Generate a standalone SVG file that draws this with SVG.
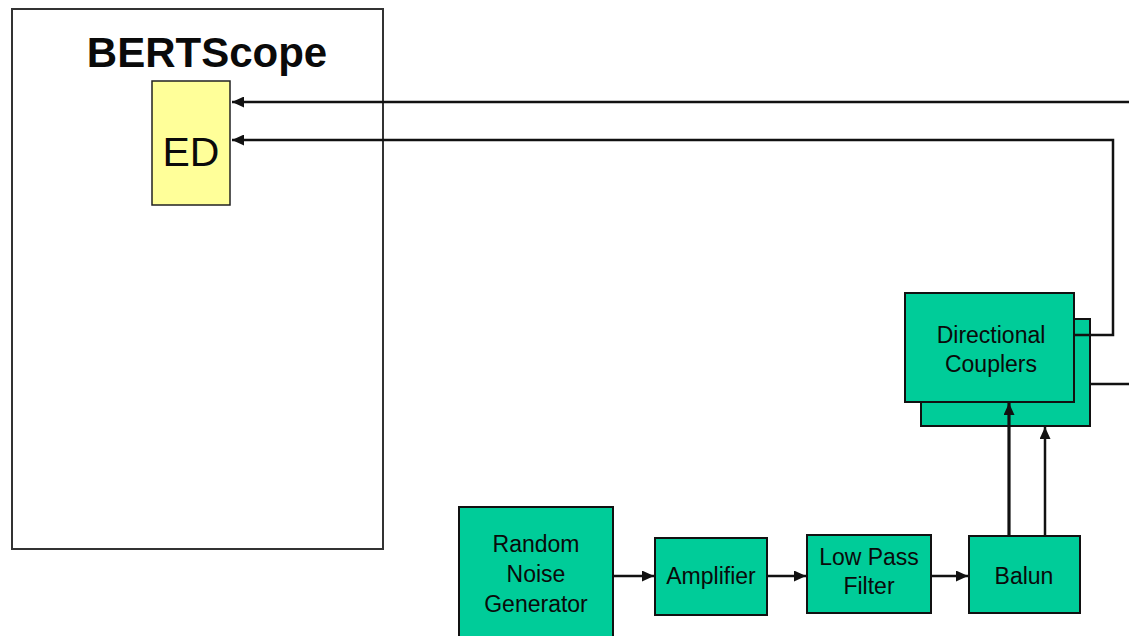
<svg xmlns="http://www.w3.org/2000/svg" width="1129" height="636" viewBox="0 0 1129 636">
  <style>
    .frame { fill: #ffffff; stroke: #333333; stroke-width: 2; }
    .block { fill: #00cc99; stroke: #111111; stroke-width: 2; }
    .ed { fill: #ffff99; stroke: #222222; stroke-width: 1.5; }
    .lbl { font-family: "Liberation Sans", Arial, sans-serif; font-size: 23px; fill: #0a0a0a; text-anchor: middle; }
    .wire { fill: none; stroke: #111111; stroke-width: 2.5; }
    .thick { stroke-width: 3.2; }
  </style>
  <defs>
    <marker id="head" markerUnits="userSpaceOnUse" markerWidth="13" markerHeight="11" refX="12" refY="5.5" orient="auto">
      <path d="M0,0 L12,5.5 L0,11 Z" fill="#111111"/>
    </marker>
  </defs>
  <rect width="1129" height="636" fill="#ffffff"/>

  <g id="bertscope">
    <rect class="frame" x="12" y="9" width="371" height="540"/>
    <text x="207" y="67" font-family="Liberation Sans, Arial, sans-serif" font-size="42" font-weight="bold" text-anchor="middle" fill="#0a0a0a">BERTScope</text>
  </g>

  <g id="ed">
    <rect class="ed" x="152" y="81" width="78" height="124"/>
    <text x="191" y="166" font-family="Liberation Sans, Arial, sans-serif" font-size="41" text-anchor="middle" fill="#0a0a0a">ED</text>
  </g>

  <g id="directional-couplers">
    <rect class="block" x="921" y="319" width="169" height="107"/>
    <rect class="block" x="905" y="293" width="169" height="109"/>
    <text class="lbl" x="991" y="343">Directional</text>
    <text class="lbl" x="991" y="372">Couplers</text>
  </g>

  <g id="random-noise-generator">
    <rect class="block" x="459" y="507" width="154" height="140"/>
    <text class="lbl" x="536" y="552">Random</text>
    <text class="lbl" x="536" y="582">Noise</text>
    <text class="lbl" x="536" y="612">Generator</text>
  </g>

  <g id="amplifier">
    <rect class="block" x="655" y="538" width="112" height="77"/>
    <text class="lbl" x="711" y="584">Amplifier</text>
  </g>

  <g id="low-pass-filter">
    <rect class="block" x="807" y="535" width="124" height="78"/>
    <text class="lbl" x="869" y="565">Low Pass</text>
    <text class="lbl" x="869" y="594">Filter</text>
  </g>

  <g id="balun">
    <rect class="block" x="969" y="536" width="111" height="77"/>
    <text class="lbl" x="1024" y="584">Balun</text>
  </g>

  <g id="connectors">
    <line class="wire" x1="1129" y1="102" x2="232" y2="102" marker-end="url(#head)"/>
    <polyline class="wire" points="1074,335 1113,335 1113,140 232,140" marker-end="url(#head)"/>
    <line class="wire" x1="1090" y1="384" x2="1129" y2="384"/>
    <line class="wire" x1="613" y1="576" x2="654" y2="576" marker-end="url(#head)"/>
    <line class="wire" x1="767" y1="576" x2="806" y2="576" marker-end="url(#head)"/>
    <line class="wire" x1="931" y1="576" x2="968" y2="576" marker-end="url(#head)"/>
    <line class="wire thick" x1="1009" y1="536" x2="1009" y2="403" marker-end="url(#head)"/>
    <line class="wire" x1="1045" y1="536" x2="1045" y2="427" marker-end="url(#head)"/>
  </g>
</svg>
